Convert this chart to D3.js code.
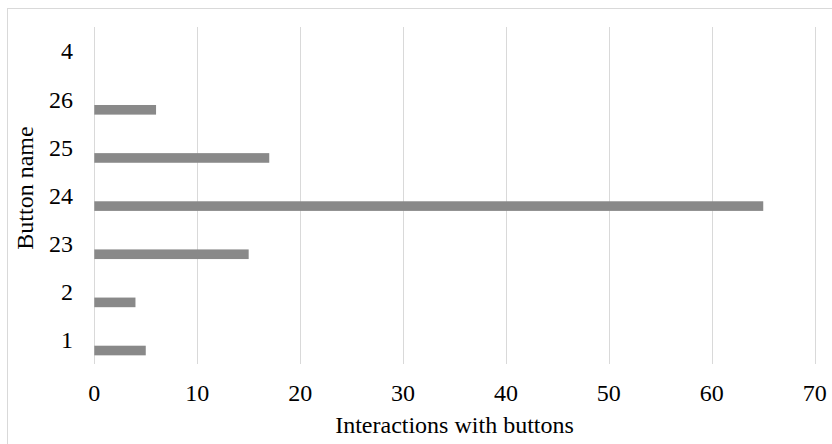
<!DOCTYPE html>
<html>
<head>
<meta charset="utf-8">
<script src="https://cdn.jsdelivr.net/npm/d3@7"></script>
<style>
html,body{margin:0;padding:0;background:#fff;}
svg{display:block;}
</style>
</head>
<body>
<svg id="chart" width="832" height="444"></svg>
<script>
const categories = ["1", "2", "23", "24", "25", "26", "4"];
const values = [5, 4, 15, 65, 17, 6, 0];
const xTicks = [0, 10, 20, 30, 40, 50, 60, 70];
const xTitle = "Interactions with buttons";
const yTitle = "Button name";

const FONT = "'Liberation Serif', 'Times New Roman', Times, 'DejaVu Serif', serif";
const plot = {left: 94.3, right: 814.7, top: 27, bottom: 364};
const svg = d3.select("#chart");

// outer border (only top & left visible)
svg.append("rect").attr("x", 7.5).attr("y", 8.5).attr("width", 840).attr("height", 460)
  .attr("fill", "none").attr("stroke", "#d9d9d9").attr("stroke-width", 1);

const x = d3.scaleLinear().domain([0, 70]).range([plot.left, plot.right]);
const y = d3.scaleBand().domain(categories.slice().reverse()).range([plot.top, plot.bottom]).padding(0);
const bw = y.bandwidth();

// gridlines
svg.append("g").selectAll("line").data(xTicks).join("line")
  .attr("x1", d => Math.round(x(d)) + 0.5).attr("x2", d => Math.round(x(d)) + 0.5)
  .attr("y1", plot.top).attr("y2", plot.bottom)
  .attr("stroke", "#d9d9d9").attr("stroke-width", 1);

// bars
svg.append("g").selectAll("rect").data(categories.map((c, i) => ({c, v: values[i]}))).join("rect")
  .attr("x", x(0))
  .attr("y", d => y(d.c) + bw * 0.5 + bw * 0.12)
  .attr("width", d => x(d.v) - x(0))
  .attr("height", bw * 0.2)
  .attr("fill", "#898989");

const txt = sel => sel.attr("font-family", FONT).attr("font-size", 24).attr("fill", "#000");

// x tick labels
svg.append("g").selectAll("text").data(xTicks).join("text")
  .attr("x", d => x(d)).attr("y", 401)
  .attr("text-anchor", "middle").call(txt)
  .text(d => d);

// y tick labels
svg.append("g").selectAll("text").data(categories).join("text")
  .attr("x", 73).attr("y", d => y(d) + bw / 2)
  .attr("dy", "0.35em")
  .attr("text-anchor", "end").call(txt)
  .text(d => d);

// axis titles
svg.append("text").attr("x", (plot.left + plot.right) / 2).attr("y", 433)
  .attr("text-anchor", "middle").call(txt).text(xTitle);

svg.append("text")
  .attr("transform", `translate(33,188) rotate(-90)`)
  .attr("text-anchor", "middle").call(txt).text(yTitle);
</script>
</body>
</html>
